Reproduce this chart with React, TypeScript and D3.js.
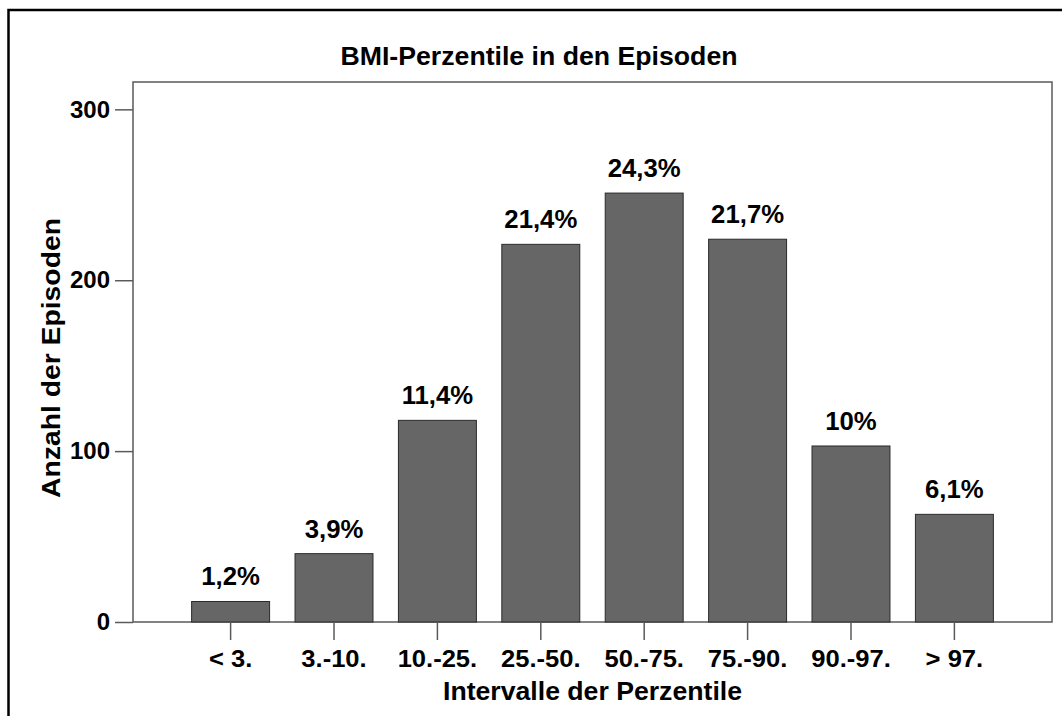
import React from "react";
import * as d3 from "d3";

// percentile intervals and episode counts
const categories = ["< 3.", "3.-10.", "10.-25.", "25.-50.", "50.-75.", "75.-90.", "90.-97.", "> 97."];
const counts = [12, 40, 118, 221, 251, 224, 103, 63];
const percentLabels = ["1,2%", "3,9%", "11,4%", "21,4%", "24,3%", "21,7%", "10%", "6,1%"];
const yTicks = [0, 100, 200, 300];

const FONT = "'Liberation Sans', Arial, Helvetica, sans-serif";

export const useD3 = (renderChartFn: (svg: any) => void, dependencies: any[]) => {
  const ref = React.useRef<SVGSVGElement>(null);
  React.useEffect(() => {
    renderChartFn(d3.select(ref.current));
    return () => {};
  }, dependencies);
  return ref;
};

function BarChart() {
  const ref = useD3((svg) => {
    const width = 1062;
    const height = 716;
    const plot = { left: 133, right: 1052, top: 82, bottom: 622 };

    svg.selectAll("*").remove();

    // outer frame (cut off at right and bottom in the original)
    svg
      .append("rect")
      .attr("x", 8.5)
      .attr("y", 10)
      .attr("width", 1062)
      .attr("height", 760)
      .attr("fill", "none")
      .attr("stroke", "#000")
      .attr("stroke-width", 2.5);

    svg
      .append("text")
      .attr("x", 539)
      .attr("y", 65)
      .attr("text-anchor", "middle")
      .attr("font-family", FONT)
      .attr("font-weight", "bold")
      .attr("font-size", 26)
      .attr("textLength", 397)
      .attr("lengthAdjust", "spacingAndGlyphs")
      .text("BMI-Perzentile in den Episoden");

    const x = d3
      .scaleBand()
      .domain(categories)
      .range([plot.left, plot.right])
      .paddingInner(0.246)
      .paddingOuter(0.567);

    const y = d3
      .scaleLinear()
      .domain([0, 316])
      .range([plot.bottom, plot.top]);

    const data = categories.map((c, i) => ({ cat: c, n: counts[i], label: percentLabels[i] }));

    // plot box
    svg
      .append("rect")
      .attr("x", plot.left)
      .attr("y", plot.top)
      .attr("width", plot.right - plot.left)
      .attr("height", plot.bottom - plot.top)
      .attr("fill", "none")
      .attr("stroke", "#5a5a5a")
      .attr("stroke-width", 1.5);

    svg
      .append("g")
      .selectAll("rect")
      .data(data)
      .join("rect")
      .attr("x", (d) => x(d.cat))
      .attr("width", x.bandwidth())
      .attr("y", (d) => y(d.n))
      .attr("height", (d) => y(0) - y(d.n))
      .attr("fill", "#666666")
      .attr("stroke", "#2b2b2b")
      .attr("stroke-width", 1);

    svg
      .append("g")
      .selectAll("text")
      .data(data)
      .join("text")
      .attr(
        "transform",
        (d) => `translate(${x(d.cat) + x.bandwidth() / 2},${y(d.n) - 16}) scale(1.03,1)`
      )
      .attr("text-anchor", "middle")
      .attr("font-family", FONT)
      .attr("font-weight", "bold")
      .attr("font-size", 25)
      .attr("fill", "#000")
      .text((d) => d.label);

    // y axis
    const yAxis = (g) =>
      g
        .attr("transform", `translate(${plot.left},0)`)
        .call(d3.axisLeft(y).tickValues(yTicks).tickSize(18).tickPadding(5).tickSizeOuter(0))
        .call((g) => g.select(".domain").remove())
        .call((g) =>
          g.selectAll(".tick line").attr("stroke", "#5a5a5a").attr("stroke-width", 1.5)
        )
        .call((g) =>
          g
            .selectAll(".tick text")
            .attr("fill", "#000")
            .attr("font-family", FONT)
            .attr("font-weight", "bold")
            .attr("font-size", 24)
        );

    const xAxis = (g) =>
      g
        .attr("transform", `translate(0,${plot.bottom})`)
        .call(d3.axisBottom(x).tickSize(18).tickPadding(5).tickSizeOuter(0))
        .call((g) => g.select(".domain").remove())
        .call((g) =>
          g.selectAll(".tick line").attr("stroke", "#5a5a5a").attr("stroke-width", 1.5)
        )
        .call((g) =>
          g
            .selectAll(".tick text")
            .attr("fill", "#000")
            .attr("font-family", FONT)
            .attr("font-weight", "bold")
            .attr("font-size", 24)
            .attr("dy", null)
            .attr("y", 0)
            .attr("transform", "translate(0,45) scale(1.065,1)")
        );

    svg.append("g").call(yAxis);
    svg.append("g").call(xAxis);

    svg
      .append("text")
      .attr("x", (plot.left + plot.right) / 2)
      .attr("y", 700)
      .attr("text-anchor", "middle")
      .attr("font-family", FONT)
      .attr("font-weight", "bold")
      .attr("font-size", 25)
      .attr("textLength", 299)
      .attr("lengthAdjust", "spacingAndGlyphs")
      .text("Intervalle der Perzentile");

    svg
      .append("text")
      .attr("transform", `translate(60,358) rotate(-90)`)
      .attr("text-anchor", "middle")
      .attr("font-family", FONT)
      .attr("font-weight", "bold")
      .attr("font-size", 25)
      .attr("textLength", 280)
      .attr("lengthAdjust", "spacingAndGlyphs")
      .text("Anzahl der Episoden");

    svg.attr("width", width).attr("height", height);
  }, []);

  return (
    <svg
      ref={ref}
      width={1062}
      height={716}
      style={{ position: "absolute", left: 0, top: 0, background: "#fff" }}
    />
  );
}

export default function App() {
  return <BarChart />;
}
